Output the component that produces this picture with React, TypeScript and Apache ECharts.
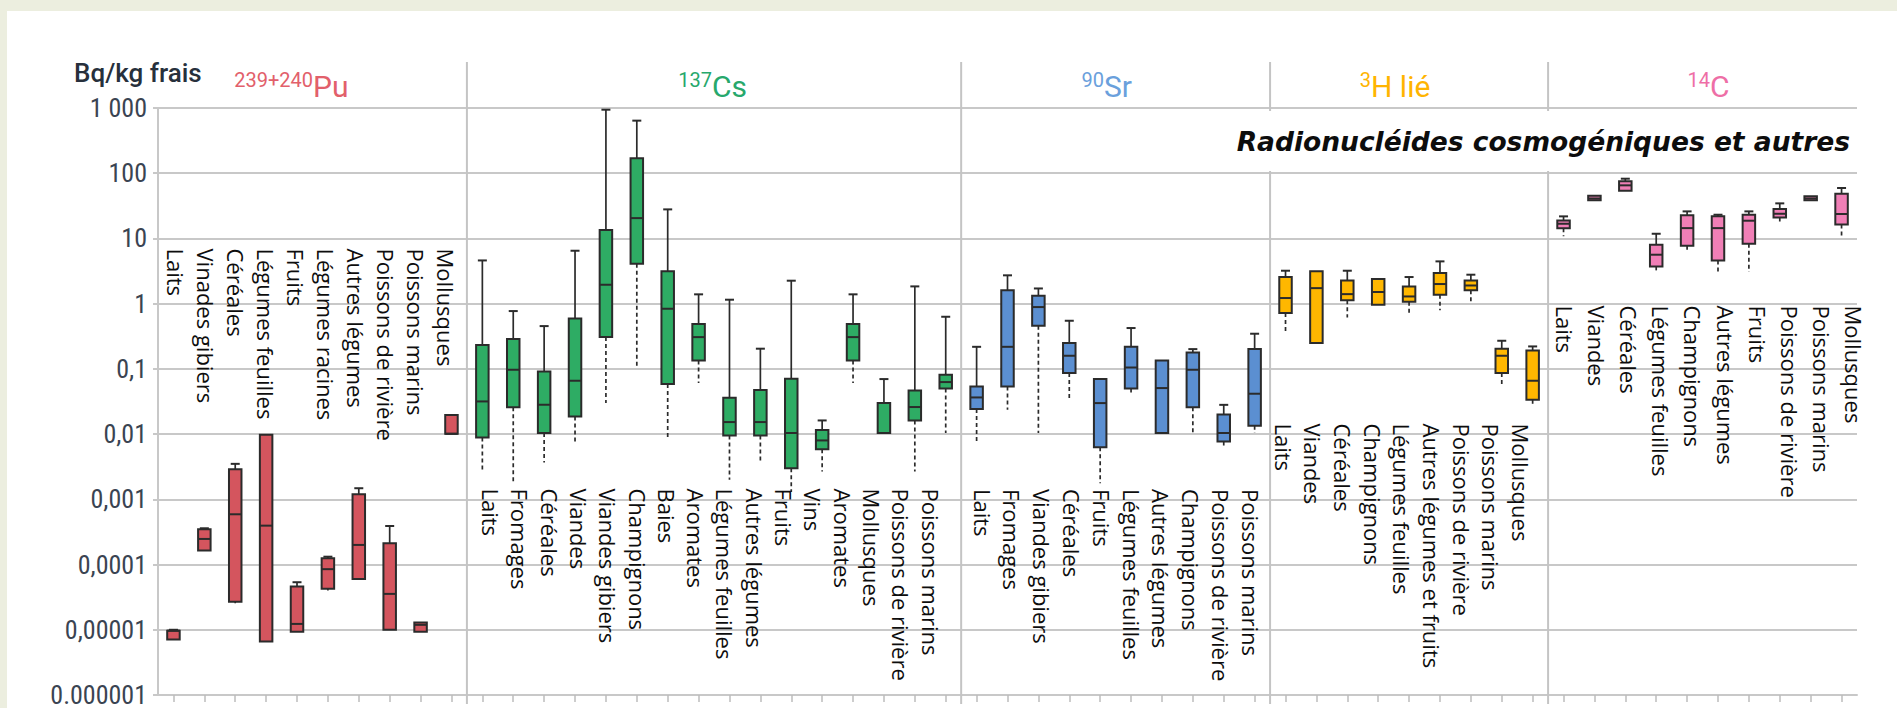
import React, { useEffect, useRef } from "react";
import * as echarts from "echarts";

// ---- Categories (one list per radionuclide) ----
const PU_CATEGORIES = [
  "Laits", "Vinades gibiers", "Céréales", "Légumes feuilles", "Fruits",
  "Légumes racines", "Autres légumes", "Poissons de rivière", "Poissons marins", "Mollusques",
];
const CS_CATEGORIES = [
  "Laits", "Fromages", "Céréales", "Viandes", "Viandes gibiers", "Champignons", "Baies",
  "Aromates", "Légumes feuilles", "Autres légumes", "Fruits", "Vins", "Aromates",
  "Mollusques", "Poissons de rivière", "Poissons marins",
];
const SR_CATEGORIES = [
  "Laits", "Fromages", "Viandes gibiers", "Céréales", "Fruits", "Légumes feuilles",
  "Autres légumes", "Champignons", "Poissons de rivière", "Poissons marins",
];
const H3_CATEGORIES = [
  "Laits", "Viandes", "Céréales", "Champignons", "Légumes feuilles",
  "Autres légumes et fruits", "Poissons de rivière", "Poissons marins", "Mollusques",
];
const C14_CATEGORIES = [
  "Laits", "Viandes", "Céréales", "Légumes feuilles", "Champignons", "Autres légumes",
  "Fruits", "Poissons de rivière", "Poissons marins", "Mollusques",
];

// ---- Box statistics in Bq/kg frais: [min, q1, median, q3, max] ----
const PU_STATS = [
  [7.0e-6, 7.1e-6, 9.7e-6, 9.7e-6, 1.0e-5],
  [1.64e-4, 1.64e-4, 2.47e-4, 3.48e-4, 3.6e-4],
  [2.55e-5, 2.7e-5, 5.9e-4, 2.9e-3, 3.5e-3],
  [6.6e-6, 6.6e-6, 3.95e-4, 9.8e-3, 9.8e-3],
  [9.35e-6, 9.35e-6, 1.23e-5, 4.6e-5, 5.36e-5],
  [4.0e-5, 4.27e-5, 8.5e-5, 1.25e-4, 1.32e-4],
  [6.0e-5, 6.0e-5, 2.0e-4, 1.2e-3, 1.48e-3],
  [1.0e-5, 1.0e-5, 3.55e-5, 2.12e-4, 3.9e-4],
  [9.35e-6, 9.35e-6, 1.19e-5, 1.29e-5, 1.3e-5],
  [0.0101, 0.0101, 0.0101, 0.0197, 0.0197],
];
const CS_STATS = [
  [0.00283, 0.0089, 0.0317, 0.232, 4.6],
  [0.00187, 0.0257, 0.097, 0.286, 0.77],
  [0.00366, 0.0104, 0.0282, 0.0914, 0.453],
  [0.0071, 0.0187, 0.0658, 0.594, 6.48],
  [0.0299, 0.307, 1.95, 13.5, 942],
  [0.103, 4.1, 20.5, 169, 640],
  [0.0082, 0.0585, 0.836, 3.13, 27.9],
  [0.0606, 0.135, 0.307, 0.486, 1.39],
  [0.00199, 0.0095, 0.0153, 0.036, 1.15],
  [0.00393, 0.0095, 0.0153, 0.0473, 0.204],
  [0.0013, 0.003, 0.0104, 0.0706, 2.25],
  [0.00267, 0.00588, 0.008, 0.0116, 0.0162],
  [0.0606, 0.135, 0.307, 0.486, 1.39],
  [0.0104, 0.0104, 0.0104, 0.0299, 0.0698],
  [0.00267, 0.0162, 0.026, 0.0468, 1.84],
  [0.0104, 0.0501, 0.0628, 0.0813, 0.63],
];
const SR_STATS = [
  [0.0077, 0.0242, 0.0365, 0.0538, 0.218],
  [0.0236, 0.0538, 0.218, 1.6, 2.72],
  [0.0104, 0.459, 0.887, 1.32, 1.71],
  [0.0356, 0.0863, 0.159, 0.249, 0.547],
  [0.00177, 0.0063, 0.0299, 0.0698, 0.0698],
  [0.04, 0.0501, 0.105, 0.218, 0.423],
  [0.0104, 0.0104, 0.0508, 0.135, 0.135],
  [0.0104, 0.0259, 0.097, 0.179, 0.201],
  [0.00644, 0.0077, 0.0104, 0.02, 0.0281],
  [0.0104, 0.0134, 0.0416, 0.201, 0.346],
];
const H3_STATS = [
  [0.354, 0.718, 1.22, 2.56, 3.2],
  [0.249, 0.249, 1.73, 3.13, 3.13],
  [0.616, 1.13, 1.4, 2.27, 3.2],
  [0.964, 0.964, 1.51, 2.38, 2.38],
  [0.653, 1.07, 1.29, 1.84, 2.56],
  [0.79, 1.37, 2.0, 2.95, 4.45],
  [1.08, 1.6, 1.9, 2.27, 2.78],
  [0.0538, 0.0863, 0.159, 0.204, 0.27],
  [0.0281, 0.0336, 0.0658, 0.192, 0.221],
];
const C14_STATS = [
  [10.8, 14.3, 16.8, 18.9, 21.8],
  [38.4, 38.4, 41, 45.2, 45.2],
  [54, 54, 65.2, 75, 82.4],
  [3.05, 3.73, 5.63, 8.0, 11.8],
  [6.7, 7.74, 14.4, 22.6, 26],
  [3.05, 4.61, 14.4, 21.8, 23.1],
  [3.05, 8.3, 18.7, 23.1, 26],
  [16.3, 21, 23.9, 28.3, 34.5],
  [38.4, 38.4, 41, 44.2, 44.2],
  [10.8, 16.3, 23.7, 48.5, 59.3],
];

// ---- Y axis tick labels, from 10^-6 up to 10^3 ----
const Y_TICK_LABELS = [
  "0.000001", "0,00001", "0,0001", "0,001", "0,01", "0,1", "1", "10", "100", "1 000",
];
const Y_MIN_EXP = -6;

// ---- Styling ----
const W = 1897;
const H = 719;
const GRID = { left: 158, right: 40, top: 108, bottom: 24 };
const EDGE = "#2b2b2b";
const GRID_COLOR = "#c8c8c8";
const FRAME_COLOR = "#eceedf";
const BOX_W = 12.5;
const CAP_W = 9;
const SEP_TOP = 62;
const SEP_BOTTOM = 704;

type Group = {
  sup: string;
  main: string;
  headColor: string;
  fill: string;
  categories: string[];
  stats: number[][];
  headX: number;
  labelDx: number;
  labelPitch: number;
  labelTop: number;
};

const GROUPS: Group[] = [
  { sup: "239+240", main: "Pu", headColor: "#e2606b", fill: "#d4555e", categories: PU_CATEGORIES, stats: PU_STATS, headX: 313, labelDx: 13.5, labelPitch: 30.0, labelTop: 248.5 },
  { sup: "137", main: "Cs", headColor: "#27a86c", fill: "#2eac64", categories: CS_CATEGORIES, stats: CS_STATS, headX: 712, labelDx: 19.5, labelPitch: 29.33, labelTop: 488.5 },
  { sup: "90", main: "Sr", headColor: "#6aa0dc", fill: "#5b8fd1", categories: SR_CATEGORIES, stats: SR_STATS, headX: 1104, labelDx: 17, labelPitch: 29.8, labelTop: 489 },
  { sup: "3", main: "H lié", headColor: "#ffb400", fill: "#ffb700", categories: H3_CATEGORIES, stats: H3_STATS, headX: 1371, labelDx: 9, labelPitch: 29.7, labelTop: 423.5 },
  { sup: "14", main: "C", headColor: "#ee6ea6", fill: "#f07fb6", categories: C14_CATEGORIES, stats: C14_STATS, headX: 1710, labelDx: 12.5, labelPitch: 32.1, labelTop: 305.5 },
];

// first global category index of each group
const GROUP_START: number[] = [];
{
  let s = 0;
  for (const g of GROUPS) {
    GROUP_START.push(s);
    s += g.categories.length;
  }
}
const ALL_CATEGORIES = GROUPS.flatMap((g) => g.categories);

function boxRenderer(fill: string) {
  return (_params: any, api: any) => {
    const i = api.value(0);
    const x = api.coord([i, 1])[0];
    const y = (v: number) => api.coord([i, v])[1];
    const yMin = y(api.value(1));
    const yQ1 = y(api.value(2));
    const yMed = y(api.value(3));
    const yQ3 = y(api.value(4));
    const yMax = y(api.value(5));
    const children: any[] = [];
    if (yQ3 - yMax > 0.5) {
      children.push({
        type: "line",
        shape: { x1: x, y1: yQ3, x2: x, y2: yMax },
        style: { stroke: EDGE, lineWidth: 1.7 },
      });
      children.push({
        type: "line",
        shape: { x1: x - CAP_W / 2, y1: yMax, x2: x + CAP_W / 2, y2: yMax },
        style: { stroke: EDGE, lineWidth: 2 },
      });
    }
    if (yMin - yQ1 > 0.5) {
      children.push({
        type: "line",
        shape: { x1: x, y1: yQ1, x2: x, y2: yMin },
        style: { stroke: EDGE, lineWidth: 1.7, lineDash: [4, 3] },
      });
    }
    children.push({
      type: "rect",
      shape: { x: x - BOX_W / 2, y: yQ3, width: BOX_W, height: Math.max(yQ1 - yQ3, 1.5) },
      style: { fill, stroke: EDGE, lineWidth: 2 },
    });
    children.push({
      type: "line",
      shape: { x1: x - BOX_W / 2, y1: yMed, x2: x + BOX_W / 2, y2: yMed },
      style: { stroke: EDGE, lineWidth: 2 },
    });
    return { type: "group", children };
  };
}

function labelRenderer(g: Group, start: number) {
  return (params: any, api: any) => {
    const k = params.dataIndex;
    const x0 = api.coord([start, 1])[0];
    return {
      type: "text",
      x: x0 + g.labelDx + k * g.labelPitch,
      y: g.labelTop,
      rotation: -Math.PI / 2,
      style: {
        text: g.categories[k],
        fontFamily: "'Open Sans', 'Noto Sans', sans-serif",
        fontSize: 22,
        fill: "#0d0d0d",
        align: "left",
        verticalAlign: "top",
      },
    };
  };
}

function separatorRenderer(_params: any, api: any) {
  const i = api.value(0);
  const x = (api.coord([i - 1, 1])[0] + api.coord([i, 1])[0]) / 2;
  return {
    type: "line",
    shape: { x1: x, y1: SEP_TOP, x2: x, y2: SEP_BOTTOM },
    style: { stroke: "#c4c4c4", lineWidth: 2 },
  };
}

function buildOption() {
  const series: any[] = [];
  series.push({
    type: "custom",
    name: "séparateurs",
    renderItem: separatorRenderer,
    data: GROUP_START.slice(1).map((s) => [s, 1]),
    z: 1,
    silent: true,
  });
  GROUPS.forEach((g, gi) => {
    const start = GROUP_START[gi];
    series.push({
      type: "custom",
      name: g.sup + g.main,
      renderItem: boxRenderer(g.fill),
      data: g.stats.map((s, k) => [start + k, ...s]),
      encode: { x: 0, y: [1, 2, 3, 4, 5] },
      z: 3,
      silent: true,
    });
    series.push({
      type: "custom",
      name: g.sup + g.main + " libellés",
      renderItem: labelRenderer(g, start),
      data: g.categories.map((_c, k) => [start + k, 1]),
      encode: { x: 0, y: 1 },
      z: 4,
      silent: true,
    });
  });

  const graphic: any[] = [
    { type: "rect", silent: true, z: 0, shape: { x: 0, y: 0, width: W, height: 11 }, style: { fill: FRAME_COLOR } },
    { type: "rect", silent: true, z: 0, shape: { x: 0, y: 0, width: 7, height: 708 }, style: { fill: FRAME_COLOR } },
    {
      type: "text",
      silent: true,
      x: 74,
      y: 73,
      style: {
        text: "Bq/kg frais",
        fontFamily: "Roboto, sans-serif",
        fontWeight: 500,
        fontSize: 26,
        fill: "#27303c",
        align: "left",
        verticalAlign: "middle",
      },
    },
    { type: "rect", silent: true, z: 10, shape: { x: 1217, y: 111, width: 646, height: 60 }, style: { fill: "#ffffff" } },
    {
      type: "text",
      silent: true,
      z: 11,
      x: 1850,
      y: 141,
      style: {
        text: "Radionucléides cosmogéniques et autres",
        fontFamily: "'DejaVu Sans', sans-serif",
        fontStyle: "italic",
        fontWeight: "bold",
        fontSize: 26.5,
        fill: "#0d0d0d",
        align: "right",
        verticalAlign: "middle",
      },
    },
  ];
  GROUPS.forEach((g) => {
    graphic.push({
      type: "text",
      silent: true,
      x: g.headX,
      y: 80,
      style: {
        text: g.sup,
        fontFamily: "Roboto, sans-serif",
        fontSize: 20,
        fill: g.headColor,
        align: "right",
        verticalAlign: "middle",
      },
    });
    graphic.push({
      type: "text",
      silent: true,
      x: g.headX,
      y: 86,
      style: {
        text: g.main,
        fontFamily: "Roboto, sans-serif",
        fontSize: 30,
        fill: g.headColor,
        align: "left",
        verticalAlign: "middle",
      },
    });
  });

  return {
    animation: false,
    backgroundColor: "#ffffff",
    grid: { ...GRID, containLabel: false },
    xAxis: {
      type: "category",
      data: ALL_CATEGORIES,
      boundaryGap: true,
      axisLine: { show: true, lineStyle: { color: GRID_COLOR, width: 2 } },
      axisTick: { show: true, alignWithLabel: true, interval: 0, length: 7, lineStyle: { color: "#bdbdbd", width: 1.5 } },
      axisLabel: { show: false, interval: 0 },
      splitLine: { show: false },
    },
    yAxis: {
      type: "log",
      logBase: 10,
      min: 1e-6,
      max: 1000,
      splitNumber: 9,
      axisLine: { show: true, lineStyle: { color: GRID_COLOR, width: 2 } },
      axisTick: { show: true, length: 5, lineStyle: { color: GRID_COLOR, width: 2 } },
      splitLine: { show: true, lineStyle: { color: GRID_COLOR, width: 2 } },
      axisLabel: {
        margin: 11,
        fontFamily: "'Liberation Sans Narrow', 'Roboto Condensed', 'DejaVu Sans Condensed', sans-serif",
        fontSize: 26,
        color: "#3a4452",
        formatter: (v: number) => {
          const e = Math.round(Math.log10(v));
          return Y_TICK_LABELS[e - Y_MIN_EXP] ?? "";
        },
      },
    },
    graphic,
    series,
  };
}

export default function App() {
  const ref = useRef<HTMLDivElement>(null);
  useEffect(() => {
    if (!ref.current) return;
    const chart = echarts.init(ref.current, undefined, { renderer: "svg" });
    chart.setOption(buildOption() as any);
    return () => chart.dispose();
  }, []);
  return (
    <div
      ref={ref}
      style={{ position: "fixed", left: 0, top: 0, width: W, height: H, background: "#ffffff" }}
    />
  );
}
